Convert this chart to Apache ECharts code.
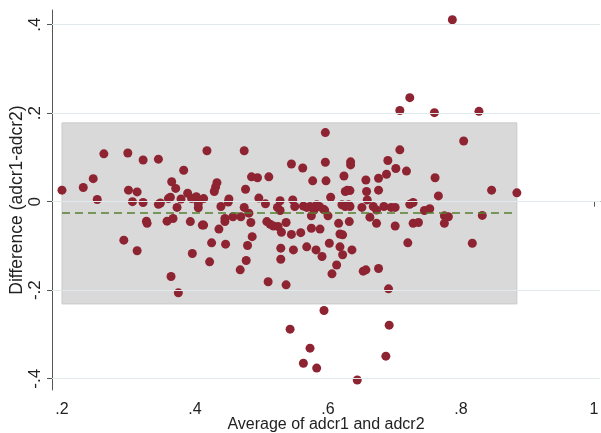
<!DOCTYPE html>
<html>
<head>
<meta charset="utf-8">
<script src="https://cdn.jsdelivr.net/npm/echarts@6/dist/echarts.min.js"></script>
<style>
  html, body { margin: 0; padding: 0; background: #fff; }
  #chart { width: 601px; height: 433px; }
</style>
</head>
<body>
<div id="chart"></div>
<script>
// average of the two measurements (x)
const avgVals = [
  0.200, 0.232, 0.247, 0.253, 0.263, 0.293, 0.299, 0.300, 0.306, 0.313,
  0.313, 0.322, 0.322, 0.327, 0.328, 0.345, 0.345, 0.348, 0.358, 0.360,
  0.364, 0.365, 0.363, 0.367, 0.371, 0.373, 0.375, 0.379, 0.383, 0.389,
  0.393, 0.395, 0.396, 0.402, 0.405, 0.405, 0.411, 0.413, 0.413, 0.418,
  0.422, 0.425, 0.429, 0.431, 0.433, 0.436, 0.439, 0.445, 0.445, 0.446,
  0.450, 0.451, 0.457, 0.468, 0.469, 0.474, 0.476, 0.474, 0.477, 0.479,
  0.481, 0.484, 0.486, 0.485, 0.494, 0.496, 0.506, 0.508, 0.510, 0.511,
  0.513, 0.518, 0.524, 0.528, 0.528, 0.525, 0.530, 0.529, 0.529, 0.537,
  0.537, 0.545, 0.545, 0.547, 0.548, 0.550, 0.559, 0.562, 0.563, 0.568,
  0.568, 0.573, 0.575, 0.577, 0.575, 0.579, 0.582, 0.583, 0.587, 0.588,
  0.591, 0.593, 0.595, 0.596, 0.596, 0.597, 0.600, 0.602, 0.604, 0.606,
  0.613, 0.616, 0.618, 0.622, 0.618, 0.622, 0.621, 0.626, 0.624, 0.626,
  0.629, 0.633, 0.631, 0.634, 0.634, 0.632, 0.636, 0.633, 0.651, 0.653,
  0.657, 0.657, 0.658, 0.659, 0.663, 0.668, 0.676, 0.676, 0.676, 0.673,
  0.673, 0.684, 0.688, 0.690, 0.691, 0.695, 0.701, 0.701, 0.702, 0.708,
  0.718, 0.720, 0.723, 0.728, 0.728, 0.736, 0.745, 0.753, 0.761, 0.766,
  0.775, 0.781, 0.775, 0.804, 0.817, 0.832, 0.846, 0.884, 0.708, 0.723,
  0.760, 0.827, 0.787, 0.594, 0.543, 0.692, 0.573, 0.563, 0.583, 0.687,
  0.644
];
// difference adcr1 - adcr2 (y)
const diffVals = [
  0.026, 0.032, 0.052, 0.005, 0.108, -0.087, 0.110, 0.026, 0.000, 0.022,
  -0.111, 0.094, -0.002, -0.044, -0.049, 0.096, -0.006, -0.003, -0.044, 0.007,
  -0.169, 0.045, 0.010, -0.038, 0.030, -0.013, -0.206, 0.006, 0.071, 0.019,
  -0.045, 0.007, -0.117, 0.011, -0.014, -0.005, -0.053, -0.053, 0.007, 0.115,
  -0.136, -0.093, 0.023, 0.033, 0.043, -0.062, -0.011, -0.038, -0.045, -0.096,
  -0.001, 0.006, -0.034, -0.154, -0.034, 0.115, 0.028, -0.013, -0.133, -0.099,
  -0.026, -0.047, -0.079, 0.056, 0.054, 0.008, -0.005, -0.045, -0.181, 0.056,
  -0.051, -0.055, -0.013, 0.002, -0.020, -0.056, -0.069, -0.105, -0.130, -0.047,
  -0.188, 0.085, -0.074, 0.004, -0.109, -0.011, -0.070, 0.076, -0.010, -0.013,
  -0.102, -0.011, -0.032, 0.047, -0.060, -0.019, -0.109, -0.007, -0.011, -0.062,
  -0.124, -0.017, -0.019, 0.156, 0.089, 0.047, -0.032, -0.094, 0.010, -0.163,
  -0.143, -0.049, -0.073, -0.075, -0.102, -0.120, -0.007, -0.011, 0.058, 0.023,
  0.026, 0.025, -0.007, 0.090, 0.083, -0.045, -0.109, -0.011, -0.013, -0.157,
  -0.154, 0.049, 0.023, 0.004, -0.035, -0.011, 0.053, 0.026, -0.151, -0.049,
  -0.019, -0.011, 0.062, 0.093, -0.197, -0.013, -0.013, -0.055, 0.075, 0.117,
  0.069, -0.093, -0.006, -0.002, -0.049, -0.047, -0.020, -0.016, 0.054, 0.013,
  -0.032, -0.034, -0.049, 0.137, -0.094, -0.031, 0.026, 0.020, 0.206, 0.235,
  0.201, 0.204, 0.411, -0.246, -0.288, -0.279, -0.331, -0.365, -0.376, -0.349,
  -0.403
];

const meanDiff = -0.026;
const upperLimit = 0.178;
const lowerLimit = -0.231;

const xTicks = [0.2, 0.4, 0.6, 0.8, 1];
const yTicks = [-0.4, -0.2, 0, 0.2, 0.4];

const xMin = Math.min(...avgVals);
const xMax = Math.max(...avgVals);

function stataFmt(v) {
  let s = String(+(+v).toFixed(1));
  return s.replace('0.', '.');
}

const points = avgVals.map((x, i) => [x, diffVals[i]]);

const font = 'Liberation Sans, Arial, sans-serif';

const option = {
  animation: false,
  backgroundColor: '#fff',
  grid: { left: 52, right: 1, top: 10, bottom: 43, outerBoundsMode: 'none', containLabel: false },
  xAxis: {
    type: 'value',
    min: 0.185,
    max: 1.009,
    name: 'Average of adcr1 and adcr2',
    nameLocation: 'middle',
    nameGap: 27,
    nameMoveOverlap: false,
    nameTextStyle: { color: '#222', fontSize: 16, fontFamily: font },
    axisLine: { show: true, lineStyle: { color: '#555', width: 1 } },
    axisTick: { show: true, length: 5, customValues: xTicks, lineStyle: { color: '#555' } },
    axisLabel: {
      customValues: xTicks, formatter: stataFmt, margin: 12,
      color: '#222', fontSize: 16, fontFamily: font
    },
    splitLine: { show: false }
  },
  yAxis: {
    type: 'value',
    min: -0.4255,
    max: 0.433,
    name: 'Difference (adcr1-adcr2)',
    nameLocation: 'middle',
    nameRotate: 90,
    nameGap: 26,
    nameMoveOverlap: false,
    nameTextStyle: { color: '#222', fontSize: 17.5, fontFamily: font },
    axisLine: { show: true, lineStyle: { color: '#555', width: 1 } },
    axisTick: { show: true, length: 5, customValues: yTicks, lineStyle: { color: '#555' } },
    axisLabel: {
      customValues: yTicks, formatter: stataFmt, rotate: 90, margin: 8,
      color: '#222', fontSize: 17, fontFamily: font
    },
    splitLine: { show: false }
  },
  series: [
    {
      // horizontal grid lines
      type: 'line',
      data: [],
      z: 1,
      silent: true,
      markLine: {
        silent: true,
        symbol: ['none', 'none'],
        label: { show: false },
        lineStyle: { color: '#e0eaec', type: 'solid', width: 1 },
        data: yTicks.map(v => ({ yAxis: v }))
      }
    },
    {
      // limits of agreement band + mean difference line
      type: 'line',
      data: [],
      z: 2,
      silent: true,
      markArea: {
        silent: true,
        itemStyle: { color: '#d9d9d9', borderColor: '#cacaca', borderWidth: 1 },
        data: [[{ coord: [xMin, upperLimit] }, { coord: [xMax, lowerLimit] }]]
      },
      markLine: {
        silent: true,
        symbol: ['none', 'none'],
        label: { show: false },
        lineStyle: { color: '#55802f', type: [8, 5], width: 1.5 },
        data: [[{ coord: [xMin, meanDiff] }, { coord: [xMax, meanDiff] }]]
      }
    },
    {
      type: 'scatter',
      data: points,
      z: 3,
      symbol: 'circle',
      symbolSize: 9,
      itemStyle: { color: '#8e2431', opacity: 1 }
    }
  ]
};

const chart = echarts.init(document.getElementById('chart'));
chart.setOption(option);
</script>
</body>
</html>
